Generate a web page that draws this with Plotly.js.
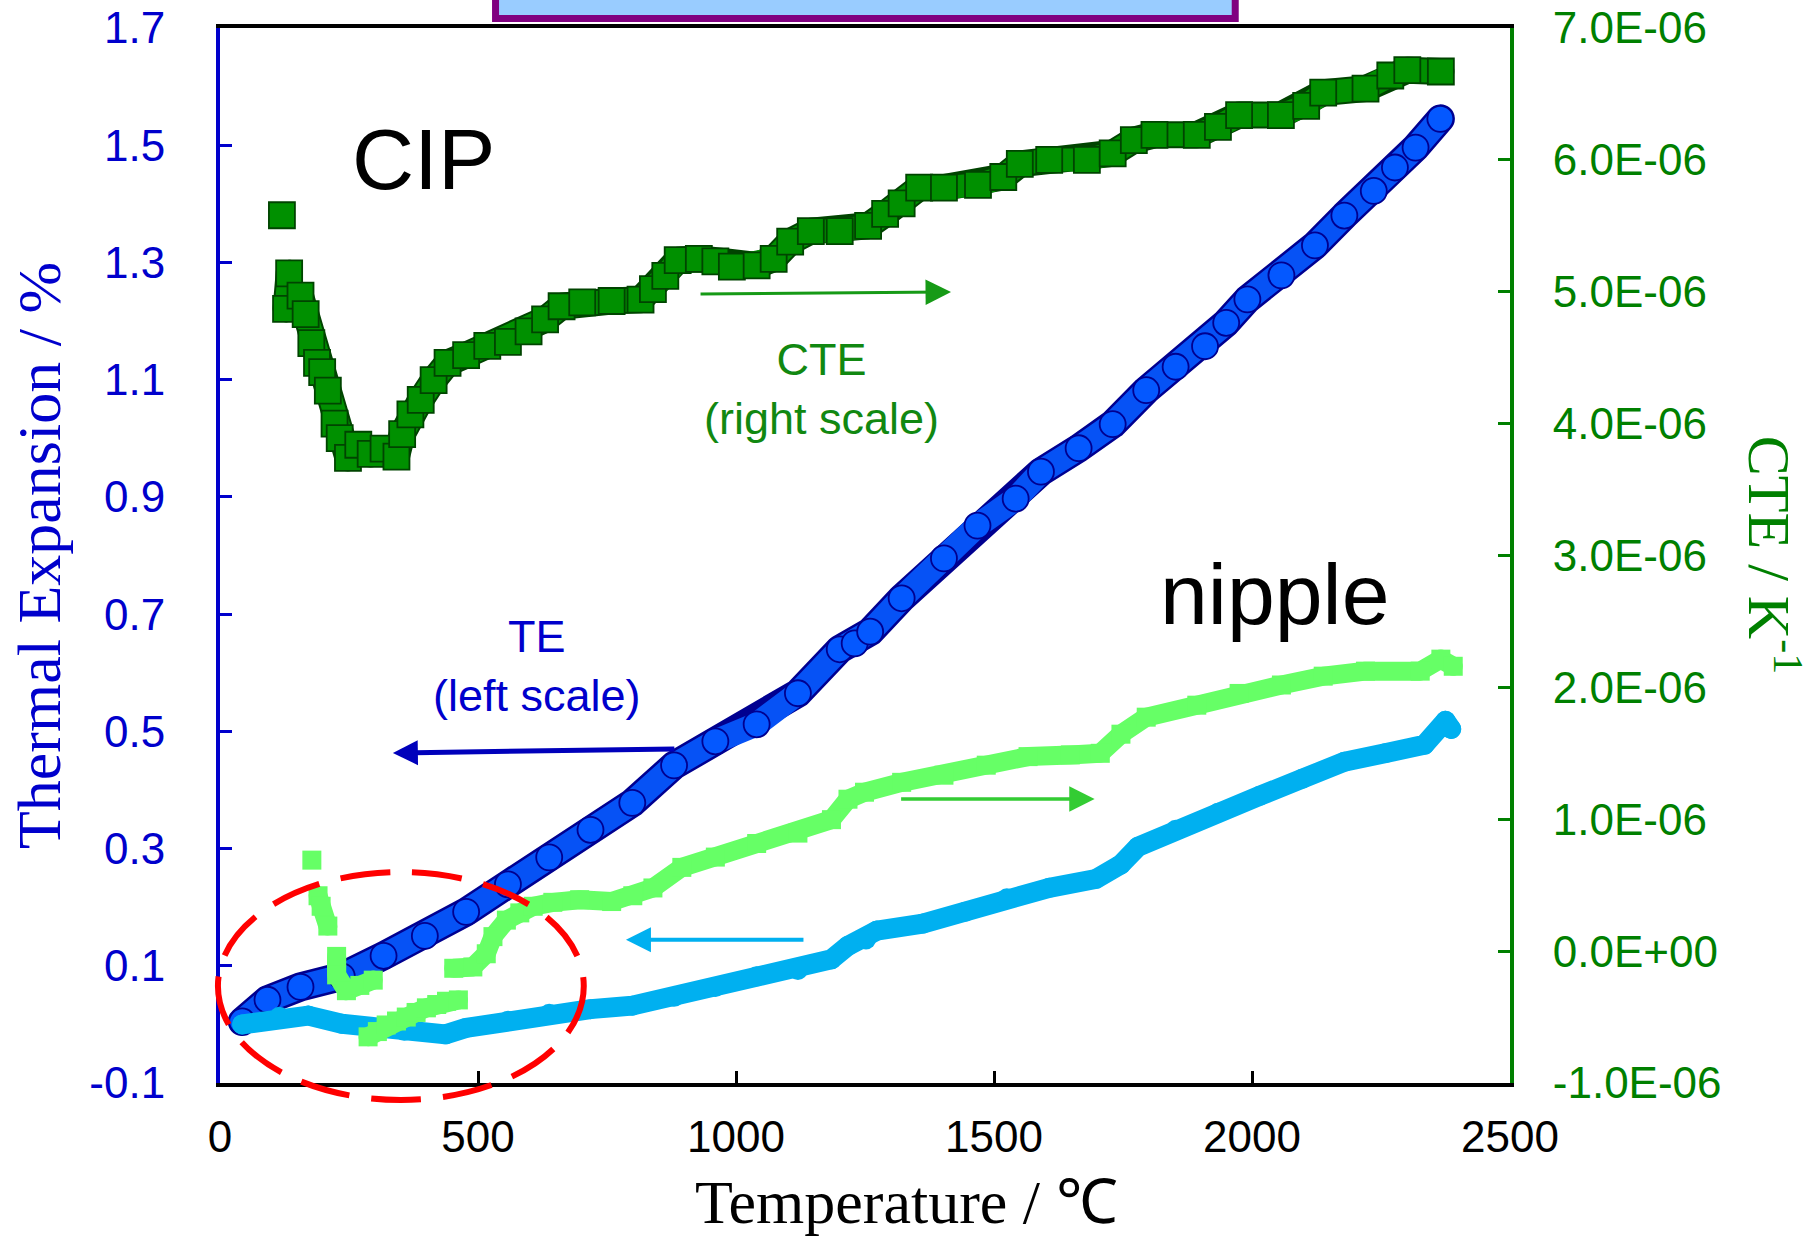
<!DOCTYPE html>
<html>
<head>
<meta charset="utf-8">
<script src="https://cdn.plot.ly/plotly-3.0.1.min.js"></script>
<style>
html,body{margin:0;padding:0;background:#fff;}
#chart{width:1812px;height:1237px;}
.scatterlayer path.js-line{stroke-linejoin:round !important;stroke-linecap:round !important;}
</style>
</head>
<body>
<div id="chart"></div>
<script>
// ---- Data ----
// CIP, thermal expansion (%), left scale
const tempCipTE = [43, 92, 156, 236, 317, 397, 477, 558, 638, 718, 799, 880, 960, 1040, 1120, 1201, 1230, 1260, 1321, 1403, 1468, 1542, 1591, 1664, 1730, 1795, 1852, 1909, 1950, 1991, 2057, 2122, 2179, 2236, 2277, 2317, 2365];
const cipTE = [0.005, 0.042, 0.064, 0.082, 0.117, 0.151, 0.192, 0.239, 0.285, 0.332, 0.378, 0.442, 0.483, 0.512, 0.565, 0.640, 0.650, 0.670, 0.727, 0.795, 0.851, 0.897, 0.943, 0.983, 1.024, 1.082, 1.122, 1.157, 1.197, 1.237, 1.278, 1.329, 1.380, 1.422, 1.462, 1.496, 1.545];

// nipple, thermal expansion (%), left scale
const tempNipTE = [43, 115, 171, 236, 292, 357, 437, 477, 558, 638, 718, 799, 880, 960, 1040, 1120, 1185, 1217, 1252, 1273, 1362, 1444, 1525, 1607, 1697, 1746, 1779, 1852, 1934, 2015, 2097, 2179, 2260, 2334, 2375, 2386];
const nipTE = [0.000, 0.013, 0.015, 0.001, -0.006, -0.011, -0.017, -0.006, 0.006, 0.018, 0.026, 0.032, 0.047, 0.064, 0.082, 0.093, 0.111, 0.134, 0.145, 0.160, 0.172, 0.192, 0.215, 0.233, 0.248, 0.273, 0.303, 0.332, 0.361, 0.390, 0.419, 0.448, 0.463, 0.477, 0.518, 0.504];

// CIP, CTE (1/K), right scale  (null = gap between separate markers)
const tempCipCTE = [120, null, 134, 128, 156, 166, 177, 188, 198, 209, 222, 232, 248, 268, 292, 317, 342, 353, 369, 389, 414, 441, 477, 518, 558, 598, 630, 662, 702, 759, 815, 839, 863, 887, 928, 960, 992, 1040, 1073, 1105, 1145, 1201, 1256, 1289, 1321, 1355, 1403, 1469, 1518, 1550, 1607, 1680, 1730, 1771, 1811, 1893, 1934, 1975, 2056, 2105, 2138, 2220, 2268, 2301, 2366];
const cipCTE = [5.58e-6, null, 5.14e-6, 4.87e-6, 4.97e-6, 4.83e-6, 4.61e-6, 4.46e-6, 4.39e-6, 4.25e-6, 4.00e-6, 3.89e-6, 3.74e-6, 3.84e-6, 3.77e-6, 3.81e-6, 3.75e-6, 3.92e-6, 4.07e-6, 4.18e-6, 4.33e-6, 4.46e-6, 4.52e-6, 4.59e-6, 4.62e-6, 4.70e-6, 4.79e-6, 4.89e-6, 4.92e-6, 4.93e-6, 4.94e-6, 5.02e-6, 5.12e-6, 5.24e-6, 5.25e-6, 5.23e-6, 5.19e-6, 5.20e-6, 5.25e-6, 5.38e-6, 5.46e-6, 5.46e-6, 5.50e-6, 5.59e-6, 5.67e-6, 5.79e-6, 5.79e-6, 5.81e-6, 5.87e-6, 5.97e-6, 6.00e-6, 6.00e-6, 6.05e-6, 6.15e-6, 6.19e-6, 6.19e-6, 6.25e-6, 6.34e-6, 6.34e-6, 6.41e-6, 6.51e-6, 6.54e-6, 6.64e-6, 6.68e-6, 6.67e-6];

// nipple, CTE (1/K), right scale  (null = gap between branches)
const tempNipCTE = [178, null, 190, 196, 209, null, 226, 226, 245, 271, 297, null, 287, 305, 322, 342, 361, 380, 400, 420, 439, 462, null, 453, 490, 516, 529, 555, 581, 607, 645, 697, 759, 800, 839, 895, 960, 1040, 1120, 1185, 1217, 1249, 1321, 1403, 1485, 1566, 1648, 1706, 1746, 1795, 1893, 1975, 2057, 2138, 2220, 2326, 2366, 2390];
const nipCTE = [0.69e-6, null, 0.42e-6, 0.34e-6, 0.19e-6, null, -0.04e-6, -0.18e-6, -0.30e-6, -0.26e-6, -0.22e-6, null, -0.65e-6, -0.61e-6, -0.56e-6, -0.53e-6, -0.50e-6, -0.465e-6, -0.43e-6, -0.405e-6, -0.38e-6, -0.37e-6, null, -0.13e-6, -0.12e-6, -0.02e-6, 0.11e-6, 0.235e-6, 0.29e-6, 0.34e-6, 0.37e-6, 0.39e-6, 0.376e-6, 0.42e-6, 0.479e-6, 0.635e-6, 0.713e-6, 0.816e-6, 0.895e-6, 0.997e-6, 1.152e-6, 1.205e-6, 1.28e-6, 1.334e-6, 1.41e-6, 1.475e-6, 1.488e-6, 1.50e-6, 1.645e-6, 1.774e-6, 1.865e-6, 1.954e-6, 2.018e-6, 2.085e-6, 2.123e-6, 2.123e-6, 2.214e-6, 2.16e-6];

// Axis ticks
const xTickVals = [0, 500, 1000, 1500, 2000, 2500];
const yTickVals = [-0.1, 0.1, 0.3, 0.5, 0.7, 0.9, 1.1, 1.3, 1.5, 1.7];
const yTickText = ["-0.1", "0.1", "0.3", "0.5", "0.7", "0.9", "1.1", "1.3", "1.5", "1.7"];
const y2TickVals = [-1e-6, 0, 1e-6, 2e-6, 3e-6, 4e-6, 5e-6, 6e-6, 7e-6];
const y2TickText = ["-1.0E-06", "0.0E+00", "1.0E-06", "2.0E-06", "3.0E-06", "4.0E-06", "5.0E-06", "6.0E-06", "7.0E-06"];

// ---- Styles ----
const SANS = "Liberation Sans, Arial, sans-serif";
const SERIF = "Liberation Serif, Times New Roman, serif";
const BLUE_AX = "#0000CC";
const GREEN_AX = "#008000";

const traces = [
  { x: tempCipTE, y: cipTE, mode: "lines", line: { color: "#000090", width: 29 }, hoverinfo: "skip", yaxis: "y" },
  { x: tempCipTE, y: cipTE, mode: "lines+markers", line: { color: "#0652F5", width: 24 },
    marker: { symbol: "circle", size: 26, color: "#0458FF", line: { color: "#000090", width: 1.8 } }, yaxis: "y" },
  { x: tempNipTE, y: nipTE, mode: "lines+markers", line: { color: "#00B0F0", width: 20 },
    marker: { symbol: "circle", size: 20, color: "#00B0F0", line: { width: 0 } }, yaxis: "y" },
  { x: tempCipCTE, y: cipCTE, mode: "lines", line: { color: "#004400", width: 27 }, hoverinfo: "skip", yaxis: "y2" },
  { x: tempCipCTE, y: cipCTE, mode: "lines+markers", line: { color: "#009000", width: 23 },
    marker: { symbol: "square", size: 26, color: "#009000", line: { color: "#004400", width: 1.8 } }, yaxis: "y2" },
  { x: tempNipCTE, y: nipCTE, mode: "lines+markers", line: { color: "#66FF66", width: 19 },
    marker: { symbol: "square", size: 19, color: "#66FF66", line: { width: 0 } }, yaxis: "y2" }
];

const layout = {
  width: 1812, height: 1237,
  margin: { l: 220, r: 302, t: 28, b: 154 },
  paper_bgcolor: "#ffffff", plot_bgcolor: "#ffffff",
  showlegend: false,
  xaxis: {
    range: [0, 2500], tickvals: xTickVals, ticks: "inside", ticklen: 12, tickwidth: 3, tickcolor: "#000",
    showline: true, linecolor: "#000", linewidth: 4, mirror: true, showgrid: false, zeroline: false,
    tickfont: { family: SANS, size: 44, color: "#000" }, ticklabelstandoff: 12
  },
  yaxis: {
    range: [-0.1, 1.7], tickvals: yTickVals, ticktext: yTickText, ticks: "inside", ticklen: 12, tickwidth: 3,
    tickcolor: BLUE_AX, showline: true, linecolor: BLUE_AX, linewidth: 4, showgrid: false, zeroline: false,
    tickfont: { family: SANS, size: 44, color: BLUE_AX }, ticklabelstandoff: 42,
    title: { text: "Thermal Expansion / %", font: { family: SERIF, size: 62, color: BLUE_AX }, standoff: 10 }
  },
  yaxis2: {
    overlaying: "y", side: "right", range: [-1e-6, 7e-6], tickvals: y2TickVals, ticktext: y2TickText,
    ticks: "inside", ticklen: 12, tickwidth: 3, tickcolor: GREEN_AX, showline: true, linecolor: GREEN_AX,
    linewidth: 4, showgrid: false, zeroline: false,
    tickfont: { family: SANS, size: 44, color: GREEN_AX }, ticklabelstandoff: 30
  },
  annotations: [
    { xref: "paper", yref: "paper", x: 0.532, y: -0.113, text: "Temperature / ℃", showarrow: false,
      xanchor: "center", yanchor: "middle", font: { family: SERIF, size: 62, color: "#000" } },
    { xref: "paper", yref: "paper", x: 1.204, y: 0.5005, text: "CTE / K<sup>-1</sup>", textangle: 90, showarrow: false,
      xanchor: "center", yanchor: "middle", font: { family: SERIF, size: 60, color: GREEN_AX } },
    { xref: "paper", yref: "paper", x: 0.158, y: 0.876, text: "CIP", showarrow: false, xanchor: "center", yanchor: "middle",
      font: { family: SANS, size: 86, color: "#000" } },
    { xref: "paper", yref: "paper", x: 0.818, y: 0.4635, text: "nipple", showarrow: false, xanchor: "center", yanchor: "middle",
      font: { family: SANS, size: 86, color: "#000" } },
    { xref: "paper", yref: "paper", x: 0.466, y: 0.6578, text: "CTE<br>(right scale)", showarrow: false, xanchor: "center", yanchor: "middle",
      font: { family: SANS, size: 45, color: "#118811" } },
    { xref: "paper", yref: "paper", x: 0.2457, y: 0.3953, text: "TE<br>(left scale)", showarrow: false, xanchor: "center", yanchor: "middle",
      font: { family: SANS, size: 45, color: BLUE_AX } },
    // arrows
    { xref: "paper", yref: "paper", x: 0.5667, y: 0.7498, ax: -252, ay: 2, text: "", showarrow: true,
      arrowhead: 2, arrowsize: 1.7, arrowwidth: 3, arrowcolor: "#169A16" },
    { xref: "paper", yref: "paper", x: 0.134, y: 0.3128, ax: 283, ay: -4, text: "", showarrow: true,
      arrowhead: 2, arrowsize: 1.0, arrowwidth: 5, arrowcolor: "#0000BB" },
    { xref: "paper", yref: "paper", x: 0.678, y: 0.2692, ax: -195, ay: 0, text: "", showarrow: true,
      arrowhead: 2, arrowsize: 1.45, arrowwidth: 3.5, arrowcolor: "#33CC33" },
    { xref: "paper", yref: "paper", x: 0.3147, y: 0.1359, ax: 179, ay: 0, text: "", showarrow: true,
      arrowhead: 2, arrowsize: 1.25, arrowwidth: 4, arrowcolor: "#00B0F0" }
  ],
  shapes: [
    { type: "circle", xref: "paper", yref: "paper", x0: -0.0016, x1: 0.282, y0: -0.0161, y1: 0.2,
      line: { color: "#FF0000", width: 6, dash: "50px,22px" }, layer: "above" },
    { type: "rect", xref: "paper", yref: "paper", x0: 0.2136, x1: 0.787, y0: 1.009, y1: 1.12,
      line: { color: "#800080", width: 7 }, fillcolor: "#99CCFF", layer: "above" }
  ]
};

Plotly.newPlot("chart", traces, layout, { staticPlot: true, displayModeBar: false });
</script>
</body>
</html>
